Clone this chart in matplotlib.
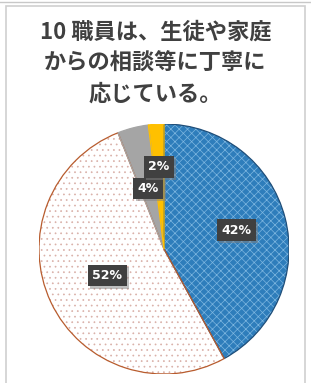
import matplotlib.pyplot as plt
import matplotlib.patches as mpatches
import matplotlib.patheffects as pe
import numpy as np

plt.rcParams['font.family'] = ['Noto Sans CJK JP', 'DejaVu Sans']
plt.rcParams['hatch.linewidth'] = 0.5

title = "10 職員は、生徒や家庭\nからの相談等に丁寧に\n応じている。"
values = [42, 52, 4, 2]
labels = ["42%", "52%", "4%", "2%"]
colors = ["#2E7DBB", "#FFFFFF", "#A5A5A5", "#FFC000"]
edges = ["#1F4E79", "#B85C2E", "#A5A5A5", "#FFC000"]
hatches = ["xxxx", "...", None, None]
hatch_cols = ["#7DB6E0", "#D9B0A8", None, None]
label_dist = [0.6, 0.5, 0.5, 0.66]

fig = plt.figure(figsize=(3.11, 3.83), dpi=100)
W, H = 311, 383

# frame lines
fig.add_artist(plt.Line2D([0, 1], [1 - 2 / H, 1 - 2 / H], color="#C8C8C8", lw=1))
fig.add_artist(mpatches.Rectangle((6 / W, -0.01), (305 - 6) / W, (377 + 4) / H,
                                  transform=fig.transFigure, fill=False,
                                  edgecolor="#CFCFCF", lw=1.2))

fig.text(0.5, 1 - 63 / H, title, ha="center", va="center", fontsize=16,
         fontweight="bold", color="#404040", linespacing=1.45)

cx, cy, r = 164, 249, 125
ax = fig.add_axes([(cx - r) / W, (H - cy - r) / H, 2 * r / W, 2 * r / H])

wedges, _ = ax.pie(values, colors=colors, startangle=90, counterclock=False,
                   radius=1, wedgeprops=dict(linewidth=0))
ax.set_xlim(-1, 1)
ax.set_ylim(-1, 1)
ax.axis("off")

# pattern overlays and outlines
for w, hc, hat, ec in zip(wedges, hatch_cols, hatches, edges):
    if hat:
        ax.add_patch(mpatches.Wedge(w.center, w.r, w.theta1, w.theta2,
                                    facecolor="none", edgecolor=hc, hatch=hat, lw=0))
    ax.add_patch(mpatches.Wedge(w.center, w.r, w.theta1, w.theta2,
                                facecolor="none", edgecolor=ec, lw=0.9))

for w, lab, d in zip(wedges, labels, label_dist):
    ang = np.deg2rad((w.theta1 + w.theta2) / 2)
    x, y = d * np.cos(ang), d * np.sin(ang)
    t = ax.text(x, y, lab, ha="center", va="center", fontsize=9,
                fontweight="bold", color="white", family="DejaVu Sans",
                bbox=dict(boxstyle="square,pad=0.35", fc="#404040", ec="none"))
    t.get_bbox_patch().set_path_effects(
        [pe.SimplePatchShadow(offset=(1.5, -1.5), shadow_rgbFace="#808080", alpha=0.5),
         pe.Normal()])

fig.savefig("out.png", dpi=100)
